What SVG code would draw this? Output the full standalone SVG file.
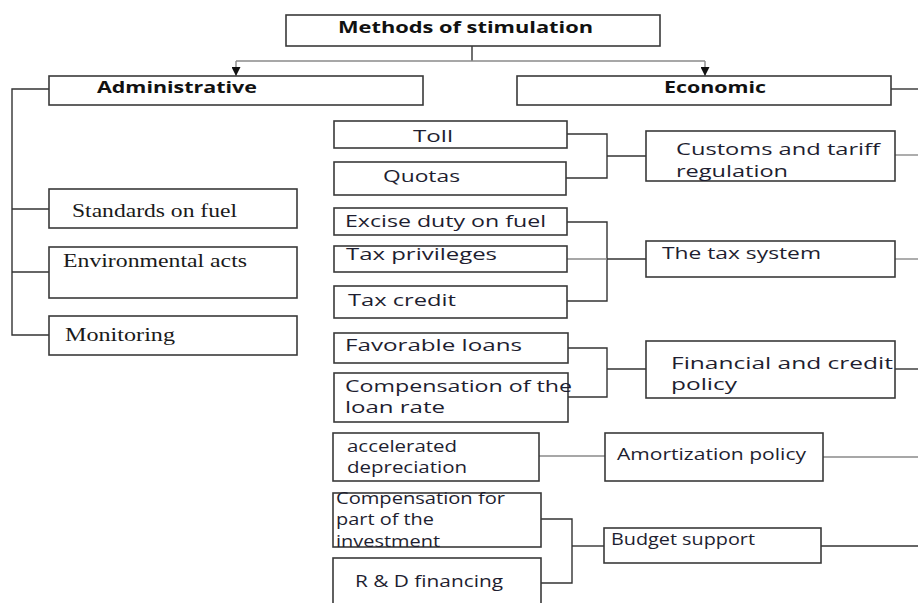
<svg xmlns="http://www.w3.org/2000/svg" width="918" height="603" viewBox="0 0 918 603">
<defs>
<style>
.box{fill:#fff;stroke:#3a3a3a;stroke-width:1.6}
.t{font-family:"Open Sans","Noto Sans",sans-serif;font-size:16px;fill:#1e1e30}
.b{font-family:"Open Sans","Noto Sans",sans-serif;font-size:16px;font-weight:bold;fill:#111}
.s{font-family:"Liberation Serif","Times New Roman",serif;font-size:18px;fill:#1a1a1a}
.c{fill:none;stroke:#333;stroke-width:1.4}
.g{fill:none;stroke:#8a8a8a;stroke-width:1.4}
</style>
<marker id="arr" markerWidth="9" markerHeight="9" refX="9" refY="4.5" orient="auto" markerUnits="userSpaceOnUse" viewBox="0 0 9 9">
<path d="M0,0 L9,4.5 L0,9 Z" fill="#111"/>
</marker>
</defs>
<rect width="918" height="603" fill="#fff"/>

<g id="connectors">
<path class="c" d="M472,46 V61"/>
<path class="g" d="M236,61 H705"/>
<path class="g" d="M236,61 V76" marker-end="url(#arr)"/>
<path class="g" d="M705,61 V76" marker-end="url(#arr)"/>
<path class="c" d="M49,89 H12 V335 H49"/>
<path class="c" d="M12,209 H49"/>
<path class="c" d="M12,272 H49"/>
<path class="c" d="M891,89 H918"/>
<path class="c" d="M567,134 H607 V178 H566"/>
<path class="c" d="M607,156 H646"/>
<path class="g" d="M895,155 H918"/>
<path class="c" d="M567,222 H607 V301 H567"/>
<path class="g" d="M567,259 H607"/>
<path class="c" d="M607,259 H646"/>
<path class="g" d="M895,259 H918"/>
<path class="c" d="M568,348 H607 V397 H568"/>
<path class="c" d="M607,369 H646"/>
<path class="c" d="M895,369 H918"/>
<path class="g" d="M539,456 H605"/>
<path class="g" d="M823,457 H918"/>
<path class="c" d="M541,519 H572 V583 H541"/>
<path class="c" d="M572,546 H604"/>
<path class="c" d="M821,546 H918"/>
</g>

<g id="methods">
<rect class="box" x="286" y="15" width="374" height="31"/>
<text class="b" x="338" y="33" textLength="255" lengthAdjust="spacingAndGlyphs">Methods of stimulation</text>
</g>
<g id="administrative">
<rect class="box" x="49" y="76" width="374" height="29"/>
<text class="b" x="97" y="93" textLength="160" lengthAdjust="spacingAndGlyphs">Administrative</text>
</g>
<g id="economic">
<rect class="box" x="517" y="76" width="374" height="29"/>
<text class="b" x="664" y="93" textLength="102" lengthAdjust="spacingAndGlyphs">Economic</text>
</g>

<g id="standards">
<rect class="box" x="49" y="189" width="248" height="39"/>
<text class="s" x="72" y="217" textLength="165" lengthAdjust="spacingAndGlyphs">Standards on fuel</text>
</g>
<g id="environmental">
<rect class="box" x="49" y="247" width="248" height="51"/>
<text class="s" x="63" y="267" textLength="184" lengthAdjust="spacingAndGlyphs">Environmental acts</text>
</g>
<g id="monitoring">
<rect class="box" x="49" y="316" width="248" height="39"/>
<text class="s" x="65" y="341" textLength="110" lengthAdjust="spacingAndGlyphs">Monitoring</text>
</g>

<g id="toll">
<rect class="box" x="334" y="121" width="233" height="27"/>
<text class="t" x="413" y="142" textLength="40" lengthAdjust="spacingAndGlyphs">Toll</text>
</g>
<g id="quotas">
<rect class="box" x="334" y="162" width="232" height="33"/>
<text class="t" x="383" y="182" textLength="77" lengthAdjust="spacingAndGlyphs">Quotas</text>
</g>
<g id="customs">
<rect class="box" x="646" y="131" width="249" height="50"/>
<text class="t" x="676" y="155" textLength="204" lengthAdjust="spacingAndGlyphs">Customs and tariff</text>
<text class="t" x="676" y="177" textLength="112" lengthAdjust="spacingAndGlyphs">regulation</text>
</g>

<g id="excise">
<rect class="box" x="334" y="208" width="233" height="27"/>
<text class="t" x="345" y="227" textLength="201" lengthAdjust="spacingAndGlyphs">Excise duty on fuel</text>
</g>
<g id="privileges">
<rect class="box" x="334" y="246" width="233" height="26"/>
<text class="t" x="346" y="260" textLength="151" lengthAdjust="spacingAndGlyphs">Tax privileges</text>
</g>
<g id="credit">
<rect class="box" x="334" y="286" width="233" height="32"/>
<text class="t" x="348" y="306" textLength="108" lengthAdjust="spacingAndGlyphs">Tax credit</text>
</g>
<g id="taxsystem">
<rect class="box" x="646" y="241" width="249" height="36"/>
<text class="t" x="662" y="259" textLength="159" lengthAdjust="spacingAndGlyphs">The tax system</text>
</g>

<g id="loans">
<rect class="box" x="334" y="333" width="234" height="30"/>
<text class="t" x="345" y="351" textLength="177" lengthAdjust="spacingAndGlyphs">Favorable loans</text>
</g>
<g id="loanrate">
<rect class="box" x="334" y="373" width="234" height="49"/>
<text class="t" x="345" y="392" textLength="227" lengthAdjust="spacingAndGlyphs">Compensation of the</text>
<text class="t" x="345" y="413" textLength="100" lengthAdjust="spacingAndGlyphs">loan rate</text>
</g>
<g id="financial">
<rect class="box" x="646" y="341" width="249" height="57"/>
<text class="t" x="671" y="369" textLength="222" lengthAdjust="spacingAndGlyphs">Financial and credit</text>
<text class="t" x="671" y="390" textLength="66" lengthAdjust="spacingAndGlyphs">policy</text>
</g>

<g id="depreciation">
<rect class="box" x="333" y="433" width="206" height="48"/>
<text class="t" x="347" y="452" textLength="110" lengthAdjust="spacingAndGlyphs">accelerated</text>
<text class="t" x="347" y="473" textLength="120" lengthAdjust="spacingAndGlyphs">depreciation</text>
</g>
<g id="amortization">
<rect class="box" x="605" y="433" width="218" height="48"/>
<text class="t" x="617" y="460" textLength="189" lengthAdjust="spacingAndGlyphs">Amortization policy</text>
</g>

<g id="investment">
<rect class="box" x="333" y="493" width="208" height="54"/>
<text class="t" x="336" y="504" textLength="169" lengthAdjust="spacingAndGlyphs">Compensation for</text>
<text class="t" x="336" y="525" textLength="98" lengthAdjust="spacingAndGlyphs">part of the</text>
<text class="t" x="336" y="547" textLength="104" lengthAdjust="spacingAndGlyphs">investment</text>
</g>
<g id="rd">
<rect class="box" x="333" y="558" width="208" height="60"/>
<text class="t" x="355" y="587" textLength="148" lengthAdjust="spacingAndGlyphs">R &amp; D financing</text>
</g>
<g id="budget">
<rect class="box" x="604" y="528" width="217" height="35"/>
<text class="t" x="611" y="545" textLength="144" lengthAdjust="spacingAndGlyphs">Budget support</text>
</g>
</svg>
